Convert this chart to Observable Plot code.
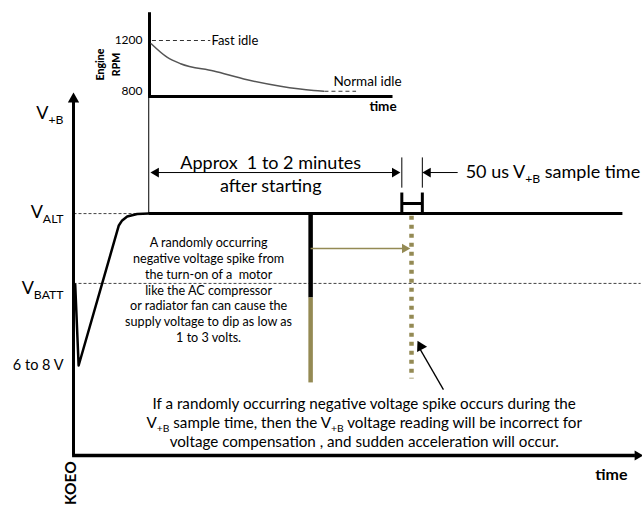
<!DOCTYPE html>
<html><head><meta charset="utf-8">
<script src="https://cdn.jsdelivr.net/npm/d3@7"></script>
<script src="https://cdn.jsdelivr.net/npm/@observablehq/plot@0.6"></script>
<style>
html,body{margin:0;padding:0;background:#fff;}
#wrap{position:relative;width:642px;height:506px;overflow:hidden;background:#fff;}
#wrap svg{position:absolute;left:0;top:0;}
</style></head><body><div id="wrap"></div>
<script>
// ===== Main diagram: schematic time (0–100) vs. supply level (0–100) =====
const levelLabels   = ["V_{+B}", "V_{ALT}", "V_{BATT}", "6 to 8 V"];
const labelLevels   = [95, 67.5, 46.4, 25];
const altLevel  = 67.2;          // V_ALT reference line
const battLevel = 47.8;          // V_BATT reference line
const crankTime  = [0.3, 0.9, 7.95, 8.54, 9.42, 11.17, 13.2];
const crankLevel = [47.5, 25, 63.9, 65.3, 66.4, 67.1, 67.2];
const steadyStart = 13.2, steadyEnd = 96.3, battLineEnd = 99.5;
const insetTop = 99.4;           // thin marker line up to the RPM inset
const spikeTime = 41.6;
const spikeLevels = [67.2, 43.9, 20.3];   // top, black→olive, bottom
const sampleTimes = [57.6, 61.2];
const sampleMid = 59.3, sampleDotBottom = 21.4;
const tickLevels = [82.8, 74.4];
const bracketLevels = [73.05, 70];
const approxLevel = 78.6, approxStart = 13.5, approxEnd = 57.35;
const sampleArrowTail = 67.4;
const pointerLevel = 57.5, pointerEnd = 59.1;
const calloutTail = [64.9, 18.3], calloutHead = [60.35, 31.9];
const axisTop = 100.8, axisEnd = 100;

const approxText = "Approx  1 to 2 minutes\nafter starting";
const sampleText = "50 us V_{+B} sample time";
const spikeNote = ["A randomly occurring", "negative voltage spike from", "the turn-on of a  motor",
  "like the AC compressor", "or radiator fan can cause the", "supply voltage to dip as low as", "1 to 3 volts."];
const bottomNote = ["If a randomly occurring negative voltage spike occurs during the",
  "V_{+B} sample time, then the V_{+B} voltage reading will be incorrect for",
  "voltage compensation , and sudden acceleration will occur."];

// ===== Inset: engine RPM vs time =====
const rpmTicks = [1200, 800];
const rpmTime  = [0.07, 0.72, 1.28, 2.64, 4.02, 5.39, 6.76, 7.17];
const rpmValue = [1174, 1068, 1016, 958, 889, 838, 804, 798];
const fastIdle = 1200, fastIdleDashEnd = 2.5;
const normalIdle = 798, normalDash = [7.2, 8.5];
const insetFloor = 756.5, insetCeil = 1424, insetTimeEnd = 10;

const OLIVE = "#948A54";
const FONT = "Lato, 'Open Sans', sans-serif";

// distance from centre to tip of a d3 triangle symbol of radius r
const tipDist = r => 2 * Math.sqrt(Math.PI * r * r / (3 * Math.sqrt(3)));
function head(x, y, angle, r, fill = "black") {
  const d = tipDist(r), a = angle * Math.PI / 180;
  return Plot.dot([{x, y}], {x: "x", y: "y", symbol: "triangle", r, rotate: angle,
    fill, stroke: "none", dx: -Math.sin(a) * d, dy: Math.cos(a) * d});
}
const seg = (x1, y1, x2, y2) => ({x1, y1, x2, y2});
const L = {x1: "x1", y1: "y1", x2: "x2", y2: "y2"};

const crank = crankTime.map((t, i) => ({t, v: crankLevel[i]}));
const labels = levelLabels.map((k, i) => ({k, v: labelLevels[i]}));

const main = Plot.plot({
  width: 642, height: 506, margin: 0,
  x: {domain: [0, 100], range: [73, 643], axis: null},
  y: {domain: [0, 100], range: [455, 95], axis: null},
  style: {fontFamily: FONT, background: "white", color: "black"},
  marks: [
    // dashed reference levels
    Plot.link([seg(0, altLevel, steadyStart, altLevel), seg(0, battLevel, battLineEnd, battLevel)],
      {...L, stroke: "#444", strokeWidth: 1, strokeDasharray: "3,2"}),
    // axes
    Plot.link([seg(0, 0, 0, axisTop - 2)], {...L, strokeWidth: 3}),
    Plot.link([seg(-0.25, 0, axisEnd - 1.5, 0)], {...L, strokeWidth: 3.5}),
    head(0, axisTop, 0, 4.2),
    head(axisEnd, 0, 90, 3.8),
    // cranking dip and rise to V_ALT
    Plot.line(crank, {x: "t", y: "v", strokeWidth: 2.5, strokeLinejoin: "round"}),
    Plot.link([seg(steadyStart, altLevel, steadyEnd, altLevel)], {...L, strokeWidth: 3}),
    // thin marker up to inset
    Plot.link([seg(steadyStart, insetTop, steadyStart, altLevel)], {...L, strokeWidth: 1}),
    // approx-time double arrow and sample-time arrow
    Plot.link([seg(approxStart + 1, approxLevel, approxEnd - 1, approxLevel), seg(sampleArrowTail, approxLevel, sampleTimes[1] + 1, approxLevel)],
      {...L, strokeWidth: 1}),
    head(approxStart, approxLevel, -90, 3.6),
    head(approxEnd, approxLevel, 90, 3.6),
    head(sampleTimes[1], approxLevel, -90, 3.6),
    // sample window ticks and bracket
    Plot.link(sampleTimes.map(t => seg(t, tickLevels[0], t, tickLevels[1])), {...L, strokeWidth: 1}),
    Plot.link([...sampleTimes.map(t => seg(t, bracketLevels[0], t, altLevel)), seg(sampleTimes[0], bracketLevels[1], sampleTimes[1], bracketLevels[1])],
      {...L, strokeWidth: 3}),
    // voltage spike
    Plot.link([seg(spikeTime, spikeLevels[0], spikeTime, spikeLevels[1])], {...L, strokeWidth: 4.5}),
    Plot.link([seg(spikeTime, spikeLevels[1], spikeTime, spikeLevels[2])], {...L, strokeWidth: 4.5, stroke: OLIVE}),
    // spike pointer to sample instant
    Plot.link([seg(spikeTime, pointerLevel, pointerEnd - 1, pointerLevel)], {...L, strokeWidth: 1.5, stroke: OLIVE}),
    head(pointerEnd, pointerLevel, 90, 3.6, OLIVE),
    // dotted sample-instant spike
    Plot.link([seg(sampleMid, altLevel - 0.6, sampleMid, sampleDotBottom)], {...L, strokeWidth: 4.5, stroke: OLIVE, strokeDasharray: "4,5"}),
    // callout arrow
    Plot.link([seg(calloutTail[0], calloutTail[1], calloutHead[0] + 0.4, calloutHead[1] - 2.2)], {...L, strokeWidth: 1.3}),
    head(calloutHead[0], calloutHead[1], -28, 4.2),
    // level labels
    Plot.text(labels.slice(0, 3), {x: 0, y: "v", text: "k", textAnchor: "end", dx: -10, fontSize: 18}),
    Plot.text(labels.slice(3), {x: 0, y: "v", text: "k", textAnchor: "end", dx: -10, fontSize: 14.5}),
    // annotations
    Plot.text([approxText], {x: 34.6, y: 78.5, text: d => d, fontSize: 18, lineHeight: 1.3}),
    Plot.text([sampleText], {x: 68.8, y: approxLevel, text: d => d, textAnchor: "start", fontSize: 18}),
    Plot.text([spikeNote.join("\n")], {x: 23.7, y: 46.1, text: d => d, fontSize: 12.6, lineHeight: 1.25}),
    Plot.text([bottomNote.join("\n")], {x: 51, y: 9.4, text: d => d, fontSize: 15.2, lineHeight: 1.27}),
    Plot.text(["time"], {x: 97.2, y: -5.3, text: d => d, textAnchor: "end", fontSize: 16, fontWeight: "bold"}),
    Plot.text(["KOEO"], {x: 0, y: -1.6, text: d => d, textAnchor: "end", rotate: -90, dx: -2, fontSize: 15.5, fontWeight: "bold"})
  ]
});

const rpm = rpmTime.map((t, i) => ({t, r: rpmValue[i]}));
const inset = Plot.plot({
  width: 642, height: 506, margin: 0,
  x: {domain: [0, insetTimeEnd], range: [149, 392], axis: null},
  y: {domain: [800, 1200], range: [90.5, 40], axis: null},
  style: {fontFamily: FONT, background: "transparent", color: "black"},
  marks: [
    Plot.link([seg(0, insetFloor, 0, insetCeil), seg(-0.06, insetFloor, insetTimeEnd, insetFloor)], {...L, strokeWidth: 3}),
    Plot.link([seg(0.1, fastIdle, fastIdleDashEnd, fastIdle), seg(normalDash[0], normalIdle, normalDash[1], normalIdle)],
      {...L, stroke: "#333", strokeWidth: 1, strokeDasharray: "4,3"}),
    Plot.line(rpm, {x: "t", y: "r", curve: "monotone-x", stroke: "#555", strokeWidth: 1.5}),
    Plot.text(rpmTicks, {x: 0, y: d => d, text: d => String(d), textAnchor: "end", dx: -7, fontSize: 12}),
    Plot.text(["Fast idle"], {x: 2.55, y: fastIdle, text: d => d, textAnchor: "start", fontSize: 13}),
    Plot.text(["Normal idle"], {x: 7.57, y: 875, text: d => d, textAnchor: "start", fontSize: 13.5}),
    Plot.text(["time"], {x: 9.05, y: 676, text: d => d, textAnchor: "start", fontSize: 13.5, fontWeight: "bold"}),
    Plot.text(["Engine\nRPM"], {x: 0, y: 1010, text: d => d, rotate: -90, dx: -42.5, fontSize: 10.5, fontWeight: 900, lineHeight: 1.55})
  ]
});

const wrap = document.getElementById("wrap");
wrap.appendChild(main);
wrap.appendChild(inset);

// render "_{...}" as subscripts
function subscripts(svg) {
  svg.querySelectorAll("text").forEach(text => {
    const spans = text.querySelectorAll("tspan");
    const targets = spans.length ? Array.from(spans) : [text];
    for (const el of targets) {
      const s = el.textContent;
      if (!s.includes("_{")) continue;
      const fs = parseFloat(getComputedStyle(el).fontSize) || 12;
      while (el.firstChild) el.removeChild(el.firstChild);
      let shift = 0;
      s.split(/_\{([^}]*)\}/).forEach((p, i) => {
        if (!p) return;
        const sub = i % 2 === 1;
        const ts = document.createElementNS("http://www.w3.org/2000/svg", "tspan");
        const want = sub ? fs * 0.25 : 0;
        if (want !== shift) { ts.setAttribute("dy", want - shift); shift = want; }
        if (sub) ts.setAttribute("font-size", fs * 0.68);
        ts.textContent = p;
        el.appendChild(ts);
      });
    }
  });
}
subscripts(main);
</script></body></html>
